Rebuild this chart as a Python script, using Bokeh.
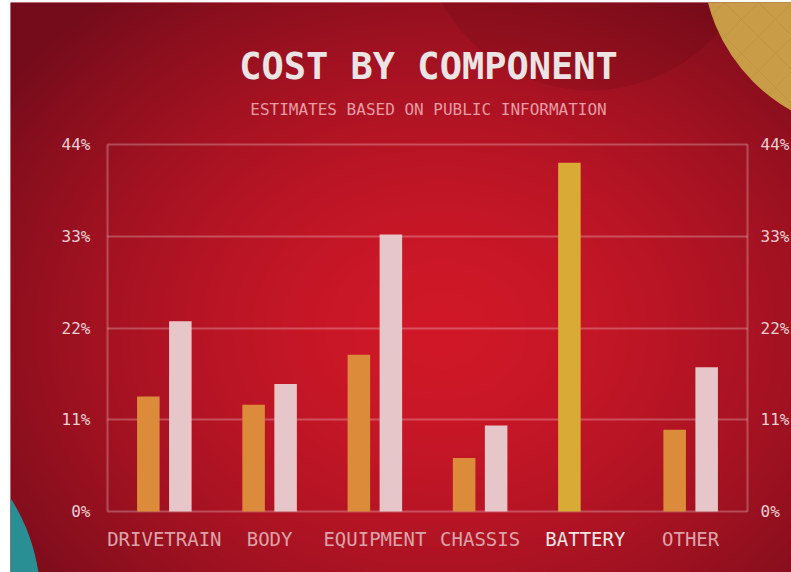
import numpy as np
from bokeh.plotting import figure
from bokeh.models import ColumnDataSource, LinearAxis, FixedTicker, Grid, Label, Range1d
from bokeh.embed import file_html
from bokeh.resources import INLINE

# ---------------- data ----------------
categories = ["DRIVETRAIN", "BODY", "EQUIPMENT", "CHASSIS", "BATTERY", "OTHER"]
share_first = [13.8, 12.8, 18.8, 6.4, 41.8, 9.8]
share_second = [22.8, 15.3, 33.2, 10.3, 0.0, 17.3]
y_ticks = [0, 11, 22, 33, 44]
y_tick_labels = ["0%", "11%", "22%", "33%", "44%"]
highlight = "BATTERY"
title_text = "COST BY COMPONENT"
subtitle_text = "ESTIMATES BASED ON PUBLIC INFORMATION"

# ---------------- geometry ----------------
OX, OY = 10, 2                     # white page strip left / top
W, H = 791 - OX, 572 - OY
FL, FR, FT, FB = 107 - OX, 747 - OX, 144 - OY, 511 - OY  # canvas px of plot area
XLO, XHI = -0.54, len(categories) - 1 + 0.54
YLO, YHI = y_ticks[0], y_ticks[-1]
sx = (FR - FL) / (XHI - XLO)
sy = (FB - FT) / (YHI - YLO)
x0 = XLO - FL / sx
x1 = XHI + (W - FR) / sx
y1 = YHI + FT / sy
y0 = YLO - (H - FB) / sy


def ref_to_data(px, py):
    cx = px - OX
    cy = py - OY
    return x0 + cx / sx, y1 - cy / sy


p = figure(width=W, height=H, x_range=Range1d(x0, x1), y_range=Range1d(y0, y1),
           x_axis_type=None, y_axis_type=None, output_backend="svg",
           toolbar_location=None, min_border=0, outline_line_color=None,
           background_fill_color="#a3111f", border_fill_color="#a3111f")
p.margin = (OY, 0, 0, OX)

# ---------------- background gradient ----------------
ny, nx = H // 2, W // 2
cxs = (np.arange(nx) + 0.5) * W / nx + OX
cys = H - (np.arange(ny) + 0.5) * H / ny + OY     # row 0 = bottom
X, Y = np.meshgrid(cxs, cys)
d = np.sqrt(((X - 440) / 540.0) ** 2 + ((Y - 330) / 430.0) ** 2)
t = np.clip(d, 0, 1.0) ** 1.6
c_in = np.array([208, 24, 40])
c_out = np.array([116, 12, 27])
rgb = c_in[None, None, :] * (1 - t[..., None]) + c_out[None, None, :] * t[..., None]
img = np.empty((ny, nx), dtype=np.uint32)
view = img.view(dtype=np.uint8).reshape((ny, nx, 4))
view[..., 0] = rgb[..., 0].astype(np.uint8)
view[..., 1] = rgb[..., 1].astype(np.uint8)
view[..., 2] = rgb[..., 2].astype(np.uint8)
view[..., 3] = 255
p.image_rgba(image=[img], x=x0, y=y0, dw=x1 - x0, dh=y1 - y0, level="image")

# ---------------- decorative circles ----------------
dx, dy = ref_to_data(590, -80)
p.circle(x=[dx], y=[dy], radius=170, radius_units="screen",
         fill_color="black", fill_alpha=0.08, line_color=None, level="image")
gx, gy = ref_to_data(875, -41)
p.circle(x=[gx], y=[gy], radius=173, radius_units="screen",
         fill_color="#c99d47", line_color=None,
         hatch_pattern="diagonal_cross", hatch_color="#a88236",
         hatch_alpha=0.3, hatch_scale=34, hatch_weight=1, level="image")
tx, ty = ref_to_data(-150, 600)
p.circle(x=[tx], y=[ty], radius=190, radius_units="screen",
         fill_color="#2a8f94", line_color=None, level="image")

# ---------------- grid ----------------
grid = Grid(dimension=1, ticker=FixedTicker(ticks=y_ticks), cross_bounds=(XLO, XHI),
            grid_line_color="white", grid_line_alpha=0.25, grid_line_width=2)
p.add_layout(grid, "center")

# ---------------- bars ----------------
OFF = 0.152
BW = 0.214
xs = list(range(len(categories)))
src = ColumnDataSource(dict(
    xa=[i - OFF for i in xs], xb=[i + OFF for i in xs],
    a=share_first, b=share_second,
    ca=["#d9aa35" if c == highlight else "#dc8b3b" for c in categories],
))
p.vbar(x="xa", top="a", bottom=0, width=BW, fill_color="ca", line_color=None, source=src)
p.vbar(x="xb", top="b", bottom=0, width=BW, fill_color="#e6c6c9", line_color=None, source=src)

# ---------------- axes ----------------
MONO = "DejaVu Sans Mono"


def y_axis(loc, side, standoff):
    ax = LinearAxis(fixed_location=loc, ticker=FixedTicker(ticks=y_ticks),
                    major_label_overrides=dict(zip(y_ticks, y_tick_labels)),
                    bounds=(YLO, YHI))
    ax.axis_line_color = "white"
    ax.axis_line_alpha = 0.25
    ax.axis_line_width = 2
    ax.major_tick_line_color = None
    ax.minor_tick_line_color = None
    ax.major_label_text_font = MONO
    ax.major_label_text_font_size = "16px"
    ax.major_label_text_color = "#e9cfd2"
    ax.major_label_standoff = standoff
    p.add_layout(ax, side)


y_axis(XLO, "left", 11)
y_axis(XHI, "right", 7)


def x_axis(idx, color):
    ax = LinearAxis(fixed_location=YLO, ticker=FixedTicker(ticks=idx),
                    major_label_overrides={i: categories[i] for i in idx})
    ax.axis_line_color = None
    ax.major_tick_line_color = None
    ax.minor_tick_line_color = None
    ax.major_label_text_font = MONO
    ax.major_label_text_font_size = "19px"
    ax.major_label_text_color = color
    ax.major_label_standoff = 10
    p.add_layout(ax, "below")


x_axis([i for i, c in enumerate(categories) if c != highlight], "#dca3aa")
x_axis([i for i, c in enumerate(categories) if c == highlight], "#f3e6e6")

# ---------------- titles ----------------
ttx, tty = ref_to_data(428, 66)
p.add_layout(Label(x=ttx, y=tty, text=title_text, text_align="center",
                   text_baseline="middle", text_font=MONO,
                   text_font_style="bold", text_font_size="37px", text_color="#ece4e4"))
stx, sty = ref_to_data(428, 109)
p.add_layout(Label(x=stx, y=sty, text=subtitle_text, text_align="center",
                   text_baseline="middle", text_font=MONO,
                   text_font_size="16px", text_color="#e79ba3"))

open("out.html", "w").write(file_html(p, INLINE))
